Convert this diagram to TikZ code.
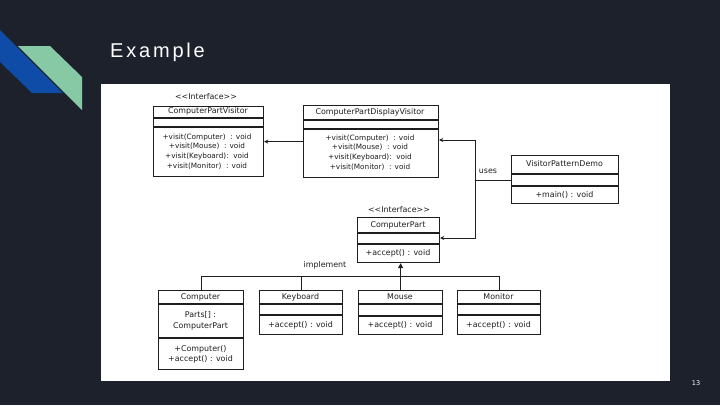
\documentclass[tikz,border=0pt]{standalone}
\usepackage{fontspec}
\setmainfont{DejaVu Sans}
\newfontfamily\titlefont[LetterSpace=14]{Liberation Sans}
\usetikzlibrary{arrows.meta}
\definecolor{bgdark}{HTML}{1C212C}
\definecolor{decoblue}{HTML}{0F4CA8}
\definecolor{decogreen}{HTML}{86C9A4}
\definecolor{umlink}{HTML}{1E1E1E}
\tikzset{
  umlbox/.style={draw=umlink, line width=1.2pt, fill=white, anchor=north west, inner sep=0pt},
  sep/.style={draw=umlink, line width=1.2pt},
  umltext/.style={text=umlink, font=\fontsize{7.9}{9.6}\selectfont, align=center, inner sep=0pt},
  opstext/.style={umltext, font=\fontsize{7.3}{9.7}\selectfont},
  conn/.style={draw=umlink, line width=1pt},
  openarr/.style={conn, -{Stealth[length=4pt,width=4pt]}},
  implarr/.style={draw=umlink, line width=1.7pt, -{Triangle[length=5pt,width=5pt]}},
}
\begin{document}
\begin{tikzpicture}[x=1pt,y=-1pt]
\fill[bgdark] (0,0) rectangle (720,405);
\useasboundingbox (0,0) rectangle (720,405);
% decoration
\fill[decoblue] (0,30) -- (63,93) -- (32,93) -- (0,62) -- cycle;
\fill[decogreen] (18,46) -- (50,46) -- (82,77) -- (82,110) -- cycle;
\node[anchor=base west, text=white, inner sep=0pt, font=\titlefont\fontsize{20}{24}\selectfont] (title) at (110,57) {Example};
\node[text=white, inner sep=0pt, font=\fontsize{6.5}{8}\selectfont] (pagenum) at (696,383) {13};
% panel
\fill[white] (101,84) rectangle (670,381);

% ComputerPartVisitor
\node[umltext] (cpvlabel) at (206,97) {{<}{<}Interface{>}{>}};
\node[umlbox, minimum width=110, minimum height=70] (cpv) at (153,106) {};
\draw[sep] (153,118) -- (263,118);
\draw[sep] (153,127) -- (263,127);
\node[umltext] (cpvname) at (208,111.5) {ComputerPartVisitor};
\node[opstext] (cpvops) at (207,151.5) {+visit(Computer)\ \ : void\\+visit(Mouse)\ \ : void\\+visit(Keyboard):\ \ void\\+visit(Monitor)\ \ : void};

% ComputerPartDisplayVisitor
\node[umlbox, minimum width=135, minimum height=72] (cpdv) at (303,105) {};
\draw[sep] (303,120) -- (438,120);
\draw[sep] (303,129) -- (438,129);
\node[umltext] (cpdvname) at (370,112) {ComputerPartDisplayVisitor};
\node[opstext] (cpdvops) at (370,152.5) {+visit(Computer)\ \ : void\\+visit(Mouse)\ \ : void\\+visit(Keyboard):\ \ void\\+visit(Monitor)\ \ : void};

% VisitorPatternDemo
\node[umlbox, minimum width=107, minimum height=48] (vpd) at (511,155) {};
\draw[sep] (511,174) -- (618,174);
\draw[sep] (511,186) -- (618,186);
\node[umltext] (vpdname) at (564.5,164) {VisitorPatternDemo};
\node[umltext] (vpdops) at (564.5,195) {+main() : void};

% ComputerPart
\node[umltext] (cplabel) at (399,210) {{<}{<}Interface{>}{>}};
\node[umlbox, minimum width=82, minimum height=45] (cp) at (357,217) {};
\draw[sep] (357,233) -- (439,233);
\draw[sep] (357,244) -- (439,244);
\node[umltext] (cpname) at (398,225) {ComputerPart};
\node[umltext] (cpops) at (398,253.5) {+accept() : void};

% Computer
\node[umlbox, minimum width=85, minimum height=79] (comp) at (158,290) {};
\draw[sep] (158,304) -- (243,304);
\draw[sep] (158,338) -- (243,338);
\node[umltext] (compname) at (200.5,297) {Computer};
\node[umltext, font=\fontsize{7.9}{11.5}\selectfont] (compattr) at (200.5,321) {Parts[] :\\ComputerPart};
\node[umltext, font=\fontsize{7.9}{10.5}\selectfont] (compops) at (200.5,354.5) {+Computer()\\+accept() : void};

% Keyboard
\node[umlbox, minimum width=83, minimum height=44] (kb) at (259,290) {};
\draw[sep] (259,304) -- (342,304);
\draw[sep] (259,315) -- (342,315);
\node[umltext] (kbname) at (300.5,297) {Keyboard};
\node[umltext] (kbops) at (300.5,325) {+accept() : void};

% Mouse
\node[umlbox, minimum width=84, minimum height=44] (mouse) at (358,290) {};
\draw[sep] (358,304) -- (442,304);
\draw[sep] (358,316) -- (442,316);
\node[umltext] (mousename) at (400,297) {Mouse};
\node[umltext] (mouseops) at (400,325.5) {+accept()\ : void};

% Monitor
\node[umlbox, minimum width=83, minimum height=44] (mon) at (457,290) {};
\draw[sep] (457,304) -- (540,304);
\draw[sep] (457,315) -- (540,315);
\node[umltext] (monname) at (498.5,297) {Monitor};
\node[umltext] (monops) at (498.5,325) {+accept()\ : void};

% connectors
\draw[openarr] (cpdv.west) -- (cpv.east |- cpdv.west);
\coordinate (usej) at (475,180);
\draw[conn] (vpd.west |- usej) -- (usej);
\draw[openarr] (usej) |- (cpdv.east |- 0,140);
\draw[openarr] (usej) |- (cp.east |- 0,238);
\node[umltext, anchor=south] (uses) at (488,174) {uses};

\coordinate (busl) at (comp.north |- 0,276);
\coordinate (busr) at (mon.north |- 0,276);
\draw[conn] (comp.north) -- (busl) -- (busr) -- (mon.north);
\draw[conn] (kb.north) -- (kb.north |- busl);
\draw[conn] (mouse.north) -- (mouse.north |- busl);
\draw[implarr] (mouse.north |- busl) -- (mouse.north |- cp.south);
\node[umltext] (impl) at (325,265) {implement};
\end{tikzpicture}
\end{document}
